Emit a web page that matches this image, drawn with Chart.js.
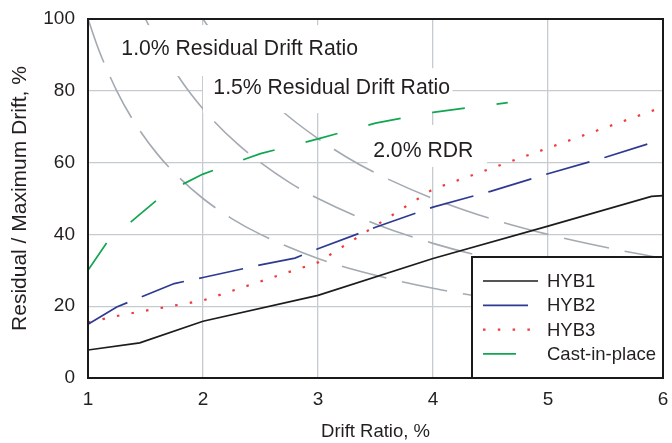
<!DOCTYPE html>
<html>
<head>
<meta charset="utf-8">
<script src="https://cdn.jsdelivr.net/npm/chart.js@4.4.1/dist/chart.umd.min.js"></script>
<style>
  html, body { margin: 0; padding: 0; background: #ffffff; }
  canvas { display: block; }
</style>
</head>
<body>
<canvas id="chart" width="672" height="443"></canvas>
<script>
// Axis ticks
const driftTicks = [1, 2, 3, 4, 5, 6];
const ratioTicks = [0, 20, 40, 60, 80, 100];

// Test specimens: drift ratio (%) and residual / maximum drift (%)
const hyb1Drift = [1, 1.45, 2, 3, 4, 5, 5.9, 6];
const hyb1Ratio = [7.8, 9.8, 15.8, 23, 33.3, 42.3, 50.6, 50.8];

const hyb2Drift = [1, 1.25, 1.75, 2, 2.5, 2.8, 3, 3.5, 4, 4.5, 5, 5.5, 5.9];
const hyb2Ratio = [15, 19.8, 26.3, 28, 31.5, 33.4, 36, 42, 47.6, 52, 56.9, 61.5, 65.5];

const hyb3Drift = [1, 1.3, 2, 3, 4, 6];
const hyb3Ratio = [15.5, 17.6, 21.6, 32.2, 52.6, 75.5];

const cipDrift = [1, 1.17, 1.43, 1.67, 2, 2.5, 3, 3.5, 4, 4.65];
const cipRatio = [30, 38, 45, 51.5, 56.8, 62.5, 66.6, 71, 74, 76.7];

// Constant residual drift ratio reference curves
const rdr10Drift = [1, 1.1, 1.25, 1.4, 1.6, 1.8, 2, 2.25, 2.5, 3, 3.5, 4, 4.5, 5, 6];
const rdr10Ratio = [100, 90.9, 80, 71.4, 62.5, 55.6, 50, 44.4, 40, 33.3, 28.6, 25, 22.2, 20, 16.7];

const rdr15Drift = [1.5, 1.6, 1.75, 1.9, 2.1, 2.3, 2.5, 2.75, 3, 3.5, 4, 4.5, 5, 5.5, 6];
const rdr15Ratio = [100, 93.8, 85.7, 78.9, 71.4, 65.2, 60, 54.5, 50, 42.9, 37.5, 33.3, 30, 27.3, 25];

const rdr20Drift = [2, 2.15, 2.3, 2.5, 2.75, 3, 3.25, 3.5, 4, 4.5, 5, 5.5, 6];
const rdr20Ratio = [100, 93, 87, 80, 72.7, 66.7, 61.5, 57.1, 50, 44.4, 40, 36.4, 33.3];

const seriesNames = ['HYB1', 'HYB2', 'HYB3', 'Cast-in-place'];
const rdrLabels = ['1.0% Residual Drift Ratio', '1.5% Residual Drift Ratio', '2.0% RDR'];

const FONT = "'Liberation Sans', Arial, Helvetica, sans-serif";

function pts(xs, ys) { return xs.map((x, i) => ({ x: x, y: ys[i] })); }

// Label placement (data units) and white backing boxes behind the labels
const labelLayout = [
  { x: 1.29, y: 91.9, box: [1.21, 3.41, 84.1, 98.3] },
  { x: 2.09, y: 81.1, box: [2.0, 4.17, 73.8, 86.3] },
  { x: 3.48, y: 63.5, box: [3.43, 4.47, 58.8, 70.5] }
];

const seriesStyle = [
  { color: '#1c1c1c', width: 1.7, dash: [] },
  { color: '#2e3a92', width: 1.7, dash: [45, 15.5] },
  { color: '#ee3b3b', width: 2.2, dash: [2.5, 12.3] },
  { color: '#12a650', width: 1.7, dash: [33, 32] }
];
const curveStyle = { color: '#a4aab2', width: 1.6, dash: [46, 16] };

const datasets = [
  pts(hyb1Drift, hyb1Ratio),
  pts(hyb2Drift, hyb2Ratio),
  pts(hyb3Drift, hyb3Ratio),
  pts(cipDrift, cipRatio)
].map((d, i) => ({
  label: seriesNames[i],
  data: d,
  borderColor: seriesStyle[i].color,
  borderWidth: seriesStyle[i].width,
  borderDash: seriesStyle[i].dash,
  borderCapStyle: 'butt',
  pointRadius: 0,
  tension: 0,
  fill: false
}));

[pts(rdr10Drift, rdr10Ratio), pts(rdr15Drift, rdr15Ratio), pts(rdr20Drift, rdr20Ratio)].forEach((d, i) => {
  datasets.push({
    label: 'rdr' + i,
    data: d,
    borderColor: curveStyle.color,
    borderWidth: curveStyle.width,
    borderDash: curveStyle.dash,
    borderCapStyle: 'butt',
    pointRadius: 0,
    cubicInterpolationMode: 'monotone',
    fill: false
  });
});

function drawRdrLabels(chart) {
  const ctx = chart.ctx, xs = chart.scales.x, ys = chart.scales.y;
  ctx.save();
  labelLayout.forEach((l) => {
    const x0 = xs.getPixelForValue(l.box[0]), x1 = xs.getPixelForValue(l.box[1]);
    const y0 = ys.getPixelForValue(l.box[3]), y1 = ys.getPixelForValue(l.box[2]);
    ctx.fillStyle = '#ffffff';
    ctx.fillRect(x0, y0, x1 - x0, y1 - y0);
  });
  ctx.fillStyle = '#231f20';
  ctx.font = '21.2px ' + FONT;
  ctx.textBaseline = 'middle';
  ctx.textAlign = 'left';
  labelLayout.forEach((l, i) => {
    ctx.fillText(rdrLabels[i], xs.getPixelForValue(l.x), ys.getPixelForValue(l.y) + 1);
  });
  ctx.restore();
}

function drawKey(chart) {
  const ctx = chart.ctx, area = chart.chartArea;
  const left = 472, top = 257;
  ctx.save();
  ctx.fillStyle = '#ffffff';
  ctx.fillRect(left, top, area.right - left, area.bottom - top);
  ctx.strokeStyle = '#1a1a1a';
  ctx.lineWidth = 2;
  ctx.strokeRect(left, top, area.right - left, area.bottom - top);
  ctx.font = '18.5px ' + FONT;
  ctx.textBaseline = 'middle';
  ctx.textAlign = 'left';
  for (let i = 0; i < 4; i++) {
    const ds = chart.data.datasets[i];
    const y = 281 + i * 24.3;
    ctx.beginPath();
    ctx.setLineDash(ds.borderDash);
    ctx.lineCap = 'butt';
    ctx.strokeStyle = ds.borderColor;
    ctx.lineWidth = ds.borderWidth;
    ctx.moveTo(483, y);
    ctx.lineTo(538, y);
    ctx.stroke();
    ctx.setLineDash([]);
    ctx.fillStyle = '#231f20';
    ctx.fillText(ds.label, 547, y + 1);
  }
  ctx.restore();
}

function drawFrame(chart) {
  const ctx = chart.ctx, a = chart.chartArea;
  ctx.save();
  ctx.strokeStyle = '#1a1a1a';
  ctx.lineWidth = 2;
  ctx.strokeRect(a.left, a.top, a.right - a.left, a.bottom - a.top);
  ctx.restore();
}

const overlay = {
  id: 'overlay',
  beforeDatasetDraw(chart, args) {
    // the reference curves are drawn first, then the labels, then the test series
    if (args.index === 3) drawRdrLabels(chart);
  },
  afterDatasetsDraw(chart) {
    drawKey(chart);
    drawFrame(chart);
  }
};

const tickFont = { family: FONT, size: 19 };
const gridStyle = { color: '#c6cad1', lineWidth: 1.3, drawTicks: false };

new Chart(document.getElementById('chart'), {
  type: 'line',
  data: { datasets: datasets },
  options: {
    responsive: false,
    animation: false,
    devicePixelRatio: 1,
    layout: { padding: { left: 0, right: 9, top: 19, bottom: 0 } },
    plugins: { legend: { display: false }, tooltip: { enabled: false } },
    scales: {
      x: {
        type: 'linear',
        min: 1, max: 6,
        afterBuildTicks: s => { s.ticks = driftTicks.map(v => ({ value: v })); },
        afterFit: s => { s.height = 65; s.paddingLeft = 0; s.paddingRight = 0; },
        grid: gridStyle,
        border: { display: false },
        ticks: { font: tickFont, color: '#231f20', padding: 10, maxRotation: 0 },
        title: { display: true, text: 'Drift Ratio, %', font: { family: FONT, size: 18.5 }, color: '#231f20', padding: { top: 0, bottom: 0 } }
      },
      y: {
        type: 'linear',
        min: 0, max: 100,
        afterBuildTicks: s => { s.ticks = ratioTicks.map(v => ({ value: v })); },
        afterFit: s => { s.width = 88; s.paddingTop = 0; s.paddingBottom = 0; },
        grid: gridStyle,
        border: { display: false },
        ticks: { font: tickFont, color: '#231f20', padding: 13 },
        title: { display: true, text: 'Residual / Maximum Drift, %', font: { family: FONT, size: 21 }, color: '#231f20', padding: { top: 8, bottom: 0 } }
      }
    }
  },
  plugins: [overlay]
});
</script>
</body>
</html>
